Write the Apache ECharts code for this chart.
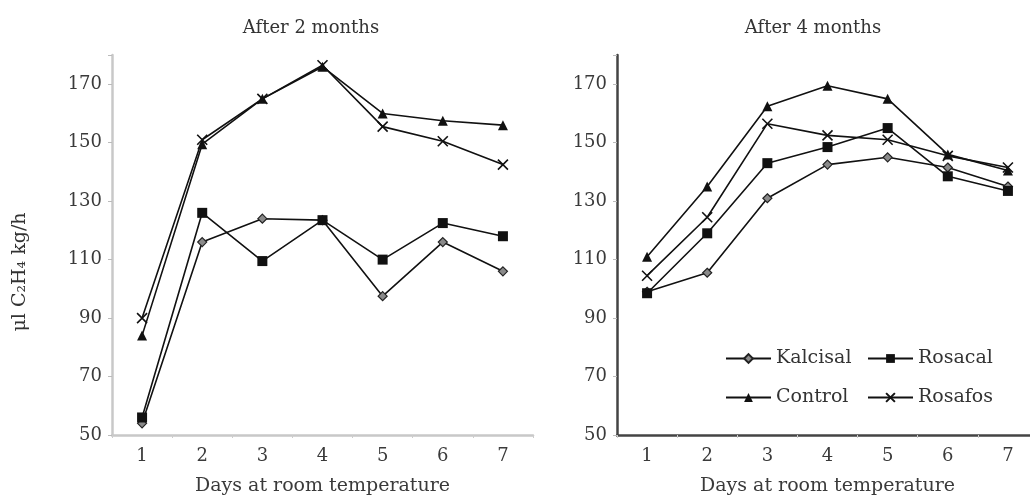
<!DOCTYPE html>
<html>
<head>
<meta charset="utf-8">
<script src="https://cdn.jsdelivr.net/npm/echarts@6/dist/echarts.min.js"></script>
<style>
  html, body { margin: 0; padding: 0; background: #fff; }
  #chart { width: 1030px; height: 498px; }
</style>
</head>
<body>
<div id="chart"></div>
<script>
// days on the x axis
var days = ['1', '2', '3', '4', '5', '6', '7'];

// after 2 months (left panel)
var kalcisal2 = [54, 116, 124, 123.5, 97.5, 116, 106];
var rosacal2 = [56, 126, 109.5, 123.5, 110, 122.5, 118];
var control2 = [84, 149.5, 165, 176, 160, 157.5, 156];
var rosafos2 = [90, 151, 165, 176.5, 155.5, 150.5, 142.5];

// after 4 months (right panel)
var kalcisal4 = [99, 105.5, 131, 142.5, 145, 141.5, 135];
var rosacal4 = [98.5, 119, 143, 148.5, 155, 138.5, 133.5];
var control4 = [111, 135, 162.5, 169.5, 165, 146, 140.5];
var rosafos4 = [104.5, 124.5, 156.5, 152.5, 151, 145.5, 141.5];

var serif = '"DejaVu Serif", "Liberation Serif", serif';
var xPath = 'path://M0,0L10,10M10,0L0,10';

var chart = echarts.init(document.getElementById('chart'));

function makeSeries(name, data, idx) {
  var s = {
    name: name,
    type: 'line',
    data: data,
    xAxisIndex: idx,
    yAxisIndex: idx,
    symbolSize: 9,
    showAllSymbol: true,
    lineStyle: { color: '#111', width: 1.6 },
    itemStyle: { color: '#111' },
    z: 3
  };
  if (name === 'Kalcisal') {
    s.symbol = 'diamond';
    s.symbolSize = 9;
    s.itemStyle = { color: '#8a8a8a', borderColor: '#222', borderWidth: 1.2 };
  } else if (name === 'Rosacal') {
    s.symbol = 'rect';
    s.symbolSize = 10;
  } else if (name === 'Control') {
    s.symbol = 'triangle';
    s.symbolSize = 10;
  } else {
    s.symbol = xPath;
    s.symbolSize = 10;
    s.itemStyle = { color: 'none', borderColor: '#111', borderWidth: 1.6 };
  }
  return s;
}

function xAx(idx, lineColor) {
  return {
    type: 'category',
    gridIndex: idx,
    data: days,
    boundaryGap: true,
    name: 'Days at room temperature',
    nameLocation: 'middle',
    nameGap: 42,
    nameTextStyle: { fontFamily: serif, fontSize: 19, color: '#3a3a3a' },
    axisLine: { lineStyle: { color: lineColor, width: 2.5 } },
    axisTick: { show: true, length: 3, lineStyle: { color: '#ccc' } },
    axisLabel: { fontFamily: serif, fontSize: 18, color: '#3a3a3a', margin: 12 }
  };
}

function yAx(idx, lineColor, withName) {
  var a = {
    type: 'value',
    gridIndex: idx,
    min: 50,
    max: 180,
    interval: 20,
    axisLine: { show: true, lineStyle: { color: lineColor, width: 2.5 } },
    axisTick: { show: true, length: 4, lineStyle: { color: '#bbb' } },
    splitLine: { show: false },
    axisLabel: {
      fontFamily: serif, fontSize: 18, color: '#3a3a3a', margin: 10,
      formatter: function (v) { return v > 170 ? '' : v; }
    }
  };
  if (withName) {
    a.name = 'μl C₂H₄ kg/h';
    a.nameLocation = 'middle';
    a.nameRotate = 90;
    a.nameGap = 82;
    a.nameTextStyle = { fontFamily: serif, fontSize: 19, color: '#333', padding: [0, 54, 0, 0] };
  }
  return a;
}

var option = {
  backgroundColor: '#fff',
  animation: false,
  title: [
    { text: 'After 2 months', left: 306, top: 14, textAlign: 'center',
      textStyle: { fontFamily: serif, fontSize: 18, fontWeight: 'normal', color: '#333' } },
    { text: 'After 4 months', left: 808, top: 14, textAlign: 'center',
      textStyle: { fontFamily: serif, fontSize: 18, fontWeight: 'normal', color: '#333' } }
  ],
  legend: [
    {
      data: ['Kalcisal', 'Control'],
      orient: 'vertical',
      left: 720, top: 344,
      itemWidth: 45, itemHeight: 11, itemGap: 20,
      textStyle: { fontFamily: serif, fontSize: 19, color: '#333' }
    },
    {
      data: ['Rosacal', 'Rosafos'],
      orient: 'vertical',
      left: 862, top: 344,
      itemWidth: 45, itemHeight: 11, itemGap: 20,
      textStyle: { fontFamily: serif, fontSize: 19, color: '#333' }
    }
  ],
  grid: [
    { left: 112, top: 55, width: 421, height: 380, outerBoundsMode: 'none', containLabel: false },
    { left: 617, top: 55, width: 421, height: 380, outerBoundsMode: 'none', containLabel: false }
  ],
  xAxis: [xAx(0, '#c8c8c8'), xAx(1, '#444')],
  yAxis: [yAx(0, '#c8c8c8', true), yAx(1, '#444', false)],
  series: [
    makeSeries('Kalcisal', kalcisal2, 0),
    makeSeries('Rosacal', rosacal2, 0),
    makeSeries('Control', control2, 0),
    makeSeries('Rosafos', rosafos2, 0),
    makeSeries('Kalcisal', kalcisal4, 1),
    makeSeries('Rosacal', rosacal4, 1),
    makeSeries('Control', control4, 1),
    makeSeries('Rosafos', rosafos4, 1)
  ]
};

chart.setOption(option);
</script>
</body>
</html>
